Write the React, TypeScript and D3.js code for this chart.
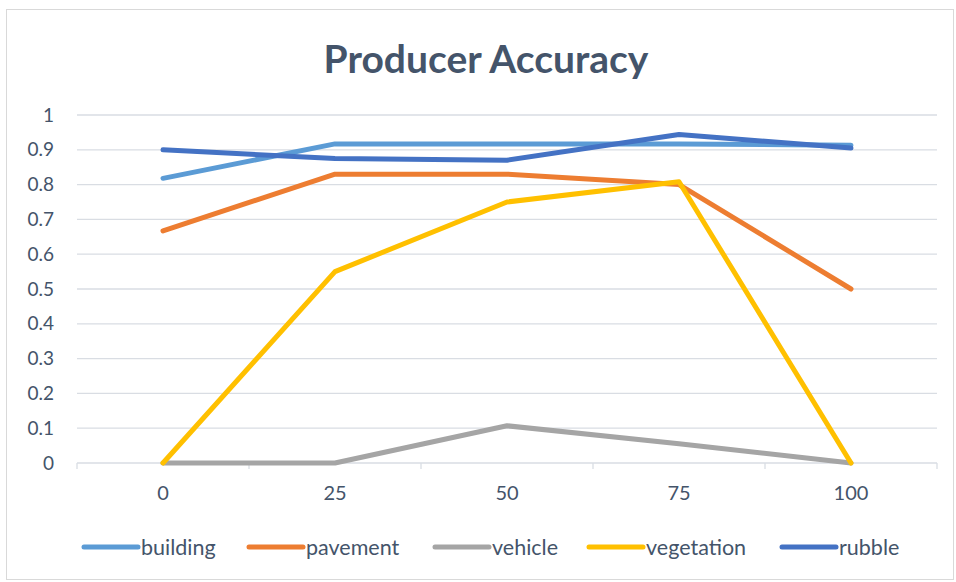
import React from "react";
import * as d3 from "d3";

const categories = ["0", "25", "50", "75", "100"];
const seriesNames = ["building", "pavement", "vehicle", "vegetation", "rubble"];
const building = [0.818, 0.917, 0.917, 0.917, 0.913];
const pavement = [0.667, 0.83, 0.83, 0.8, 0.5];
const vehicle = [0, 0, 0.107, 0.055, 0];
const vegetation = [0, 0.55, 0.75, 0.808, 0];
const rubble = [0.9, 0.875, 0.87, 0.944, 0.905];
const yTicks = [0, 0.1, 0.2, 0.3, 0.4, 0.5, 0.6, 0.7, 0.8, 0.9, 1];
const colors = ["#5B9BD5", "#ED7D31", "#A5A5A5", "#FFC000", "#4472C4"];

const W = 956, H = 582;
const FONT = "Lato, 'Open Sans', sans-serif";
const TEXT = "#44546A";

export default function App() {
  const values = [building, pavement, vehicle, vegetation, rubble];
  const x = d3.scaleBand().domain(categories).range([77, 937]);
  const y = d3.scaleLinear().domain([0, 1]).range([463, 115]);
  const line = d3.line<number>()
    .x((_, i) => (x(categories[i]) as number) + x.bandwidth() / 2)
    .y((d) => y(d));
  const ticksX = [...categories.map((c) => x(c) as number), 937];
  const legendX = [82, 247, 433, 587, 780];
  return (
    <svg width={W} height={H} style={{ position: "absolute", left: 0, top: 0, background: "#fff" }}>
      <rect x={6.5} y={9.5} width={W - 9} height={H - 12} fill="#fff" stroke="#D9D9D9" />
      <text x={486} y={73} textAnchor="middle" fontFamily={FONT} fontWeight="bold" fontSize={39} fill={TEXT}>
        Producer Accuracy
      </text>
      {yTicks.map((t) => (
        <g key={t}>
          <line x1={77} x2={937} y1={y(t)} y2={y(t)} stroke="#D9DDE3" strokeWidth={1.3} />
          <text x={54} y={y(t)} dy="0.35em" textAnchor="end" fontFamily={FONT} fontSize={19} fill={TEXT}>
            {String(t)}
          </text>
        </g>
      ))}
      {ticksX.map((tx, i) => (
        <line key={i} x1={tx} x2={tx} y1={463} y2={469} stroke="#D9DDE3" strokeWidth={1.3} />
      ))}
      {categories.map((c) => (
        <text key={c} x={(x(c) as number) + x.bandwidth() / 2} y={493} dy="0.35em" textAnchor="middle" fontFamily={FONT} fontSize={20} fill={TEXT}>
          {c}
        </text>
      ))}
      {values.map((v, i) => (
        <path key={seriesNames[i]} d={line(v) as string} fill="none" stroke={colors[i]} strokeWidth={5} strokeLinecap="round" strokeLinejoin="round" />
      ))}
      {seriesNames.map((s, i) => (
        <g key={s}>
          <line x1={legendX[i] + 2} x2={legendX[i] + 56} y1={547} y2={547} stroke={colors[i]} strokeWidth={5} strokeLinecap="round" />
          <text x={legendX[i] + 59} y={547} dy="0.35em" fontFamily={FONT} fontSize={21.5} fill={TEXT}>
            {s}
          </text>
        </g>
      ))}
    </svg>
  );
}
